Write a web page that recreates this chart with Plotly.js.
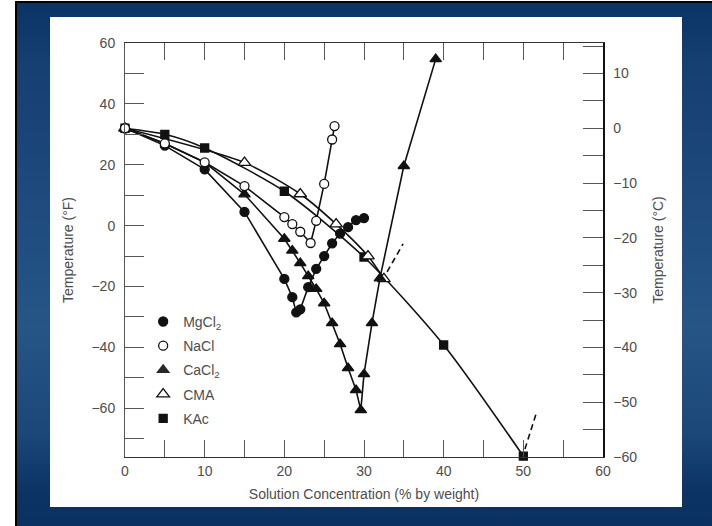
<!DOCTYPE html>
<html>
<head>
<meta charset="utf-8">
<script src="https://cdn.plot.ly/plotly-3.0.1.min.js"></script>
<style>
  html, body { margin: 0; padding: 0; width: 712px; height: 526px; overflow: hidden; background: #ffffff; }
  #frame { position: absolute; left: 15px; top: 1px; width: 697px; height: 525px;
           border-left: 2px solid #000; border-top: 2px solid #000; box-sizing: border-box;
           background: linear-gradient(to bottom, #0a3465 0%, #163f72 12%, #1f4b7e 40%, #275586 62%, #1b4779 82%, #0b3364 94%, #0a3162 100%); }
  #chart { position: absolute; left: 50px; top: 17px; width: 632px; height: 490px; background: #fff; }
</style>
</head>
<body>
<div id="frame"></div>
<div id="chart"></div>
<script>
// Freezing point data (x: % by weight, y: temperature °F)
const mgX = [0, 5, 10, 15, 20, 21, 21.5, 22, 23, 24, 25, 26, 27, 28, 29, 30];
const mgY = [32, 26.3, 18.5, 4.5, -17.5, -23.5, -28.5, -27.5, -20.2, -14.2, -10, -5.8, -2.6, -0.5, 1.8, 2.5];

const naX = [0, 5, 10, 15, 20, 21, 22, 23.3, 24, 25, 26, 26.3];
const naY = [32, 27, 20.8, 13, 2.8, 0.5, -2, -5.7, 1.6, 13.7, 28.3, 32.7];

const caX = [0, 5, 10, 15, 20, 21, 22, 23, 24, 25, 26, 27, 28, 29, 29.6, 30, 31, 32, 35, 39];
const caY = [32, 27, 20.8, 10.3, -4.3, -8.2, -12.3, -16.6, -20.8, -25.5, -32, -38.9, -46.8, -54, -60.6, -48.8, -32, -17.3, 19.6, 54.7];
// symbols hidden under the NaCl circles in the reference
const caSymbolShown = [1, 0, 0, 1, 1, 1, 1, 1, 1, 1, 1, 1, 1, 1, 1, 1, 1, 1, 1, 1];

const cmaX = [0, 15, 22, 26.5, 30.5, 32.5];
const cmaY = [32, 20.7, 10.4, 0.5, -10, -17.5];

const kacX = [0, 5, 10, 20, 30, 40, 50];
const kacY = [32, 30, 25.5, 11.3, -10.3, -39.2, -75.7];

// dashed extensions
const cmaExtX = [32.9, 34.9];
const cmaExtY = [-15.2, -6];
const kacExtX = [50.2, 51.7];
const kacExtY = [-73.4, -61];

const seriesNames = ['MgCl<sub>2</sub>', 'NaCl', 'CaCl<sub>2</sub>', 'CMA', 'KAc'];

const INK = '#111111';
const LW = 1.6;

function lineTrace(x, y, shape) {
  return { x: x, y: y, type: 'scatter', mode: 'lines', showlegend: false, hoverinfo: 'skip',
           cliponaxis: false, line: { color: INK, width: LW, shape: shape, smoothing: 0.7 } };
}
function markerTrace(x, y, name, symbol, size, fill, rank, opac) {
  const m = { symbol: symbol, size: size, color: fill, line: { color: INK, width: 1.3 } };
  if (opac) m.opacity = opac;
  return { x: x, y: y, type: 'scatter', mode: 'markers', name: name, legendgroup: 'g' + rank,
           legendrank: rank, cliponaxis: false, marker: m };
}

const traces = [
  lineTrace(kacX, kacY, 'spline'),
  lineTrace(cmaX, cmaY, 'spline'),
  lineTrace(caX, caY, 'linear'),
  lineTrace(mgX, mgY, 'linear'),
  lineTrace(naX, naY, 'linear'),
  { x: cmaExtX, y: cmaExtY, type: 'scatter', mode: 'lines', showlegend: false, hoverinfo: 'skip',
    line: { color: INK, width: LW, dash: '6px,4px' } },
  { x: kacExtX, y: kacExtY, type: 'scatter', mode: 'lines', showlegend: false, hoverinfo: 'skip',
    cliponaxis: false, line: { color: INK, width: LW, dash: '6px,4px' } },
  markerTrace(kacX, kacY, seriesNames[4], 'square', 8, INK, 5),
  markerTrace(cmaX, cmaY, seriesNames[3], 'triangle-up', 11, '#ffffff', 4),
  markerTrace(caX, caY, seriesNames[2], 'triangle-up', 10, INK, 3, caSymbolShown),
  markerTrace(mgX, mgY, seriesNames[0], 'circle', 9, INK, 1),
  markerTrace(naX, naY, seriesNames[1], 'circle', 9, '#ffffff', 2),
  // empty trace so that the °C axis is drawn
  { x: [], y: [], type: 'scatter', mode: 'lines', yaxis: 'y2', showlegend: false, hoverinfo: 'skip' }
];

const FONT = 'Liberation Sans, Arial, Helvetica, sans-serif';
const TXT = '#4d4d4d';

const layout = {
  width: 632, height: 490,
  margin: { l: 75, r: 79, t: 26, b: 50 },
  paper_bgcolor: '#ffffff', plot_bgcolor: '#ffffff',
  font: { family: FONT, size: 14, color: TXT },
  showlegend: true,
  legend: { x: 0.038, y: 0.365, xanchor: 'left', yanchor: 'top', bgcolor: 'rgba(0,0,0,0)',
            traceorder: 'grouped', tracegroupgap: 3, font: { size: 14, color: TXT } },
  xaxis: {
    range: [0, 60], dtick: 10, tick0: 0,
    showgrid: false, zeroline: false,
    showline: true, linecolor: '#333', linewidth: 1.3, mirror: 'ticks',
    ticks: 'inside', ticklen: 17, tickcolor: '#555', tickwidth: 1,
    minor: { dtick: 5, ticks: 'inside', ticklen: 17, tickcolor: '#555', tickwidth: 1, showgrid: false },
    ticklabelstandoff: 1,
    title: { text: 'Solution Concentration (% by weight)', standoff: 11, font: { size: 14, color: TXT } }
  },
  yaxis: {
    range: [-76, 60], dtick: 20, tick0: 0,
    showgrid: false, zeroline: false,
    showline: true, linecolor: '#555', linewidth: 1,
    ticks: 'inside', ticklen: 19, tickcolor: '#555', tickwidth: 1,
    minor: { dtick: 10, ticks: 'inside', ticklen: 19, tickcolor: '#555', tickwidth: 1, showgrid: false },
    ticklabelstandoff: 6,
    title: { text: 'Temperature (°F)', standoff: 14, font: { size: 14, color: TXT } }
  },
  yaxis2: {
    overlaying: 'y', side: 'right',
    range: [-60, (60 - 32) / 1.8], dtick: 10, tick0: 0,
    showgrid: false, zeroline: false,
    showline: true, linecolor: '#111', linewidth: 1.5,
    ticks: 'inside', ticklen: 20, tickcolor: '#555', tickwidth: 1,
    minor: { dtick: 5, ticks: 'inside', ticklen: 20, tickcolor: '#555', tickwidth: 1, showgrid: false },
    ticklabelstandoff: 6,
    title: { text: 'Temperature (°C)', standoff: 17, font: { size: 14, color: TXT } }
  }
};

Plotly.newPlot('chart', traces, layout, { staticPlot: true, displayModeBar: false });
</script>
</body>
</html>
